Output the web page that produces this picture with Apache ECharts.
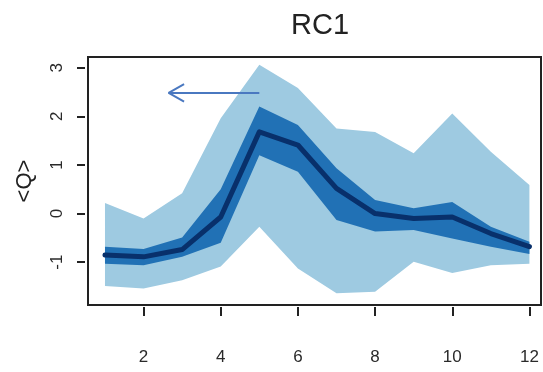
<!DOCTYPE html>
<html>
<head>
<meta charset="utf-8">
<script src="https://cdn.jsdelivr.net/npm/echarts@6/dist/echarts.min.js"></script>
<style>html,body{margin:0;padding:0;background:#fff;}#c{width:543px;height:372px;}</style>
</head>
<body>
<div id="c"></div>
<script>
var xValues = [1,2,3,4,5,6,7,8,9,10,11,12];
var outerLow  = [-1.49,-1.54,-1.37,-1.09,-0.27,-1.13,-1.64,-1.61,-0.99,-1.22,-1.06,-1.03];
var outerHigh = [0.22,-0.10,0.42,1.96,3.06,2.58,1.75,1.68,1.24,2.06,1.27,0.59];
var innerLow  = [-1.03,-1.06,-0.89,-0.60,1.20,0.86,-0.13,-0.37,-0.34,-0.51,-0.68,-0.83];
var innerHigh = [-0.68,-0.73,-0.49,0.50,2.20,1.82,0.93,0.28,0.11,0.24,-0.27,-0.58];
var meanQ     = [-0.85,-0.89,-0.74,-0.07,1.68,1.41,0.52,0.00,-0.10,-0.07,-0.41,-0.68];
var xTicks = [2,4,6,8,10,12];
var yTicks = [-1,0,1,2,3];
var arrowShaft = [[5.0,2.48],[2.65,2.48]];
var arrowHead  = [[3.05,2.66],[2.65,2.48],[3.05,2.30]];

function pairs(a){ return xValues.map(function(x,i){ return [x,a[i]]; }); }
function bandData(l,h){ return xValues.map(function(x,i){ return [x,l[i],h[i]]; }); }

function bandRenderer(low, high, color){
  return function(params, api){
    if (params.dataIndex !== 0) return null;
    var pts = [];
    for (var i = 0; i < xValues.length; i++) pts.push(api.coord([xValues[i], high[i]]));
    for (var j = xValues.length - 1; j >= 0; j--) pts.push(api.coord([xValues[j], low[j]]));
    return {type:'polygon', shape:{points:pts}, style:{fill:color, stroke:null}};
  };
}

var chart = echarts.init(document.getElementById('c'));
var font = 'Liberation Sans, Arial, sans-serif';
chart.setOption({
  animation:false,
  title:{text:'RC1', left:315, textAlign:'center', top:6,
    textStyle:{fontFamily:font, fontSize:29, fontWeight:'normal', color:'#222'}},
  grid:{left:88, right:2, top:57, bottom:67, show:true, borderColor:'#222', borderWidth:2, backgroundColor:'transparent'},
  xAxis:{type:'value', min:0.56, max:12.3, offset:2,
    axisLine:{show:false, onZero:false}, splitLine:{show:false},
    axisTick:{show:true, length:9, lineStyle:{color:'#222', width:2}, customValues:xTicks},
    axisLabel:{fontFamily:font, fontSize:17, color:'#2a2a2a', margin:42, customValues:xTicks}},
  yAxis:{type:'value', min:-1.88, max:3.22, offset:3,
    name:'<Q>', nameLocation:'middle', nameGap:49, nameRotate:90,
    nameTextStyle:{fontFamily:font, fontSize:22, color:'#222'},
    axisLine:{show:false, onZero:false}, splitLine:{show:false},
    axisTick:{show:true, length:8, lineStyle:{color:'#222', width:2}, customValues:yTicks},
    axisLabel:{fontFamily:font, fontSize:17, color:'#2a2a2a', margin:19, rotate:90, customValues:yTicks}},
  series:[
    {type:'custom', data:bandData(outerLow,outerHigh), encode:{x:0, y:[1,2]},
      renderItem:bandRenderer(outerLow, outerHigh, '#9ecae1'), silent:true, z:1},
    {type:'custom', data:bandData(innerLow,innerHigh), encode:{x:0, y:[1,2]},
      renderItem:bandRenderer(innerLow, innerHigh, '#2171b5'), silent:true, z:2},
    {type:'line', data:pairs(meanQ), symbol:'none', lineStyle:{color:'#08306b', width:5, join:'round', cap:'round'}, silent:true, z:3},
    {type:'line', data:arrowShaft, symbol:'none', lineStyle:{color:'#4a78c0', width:2}, silent:true, z:5},
    {type:'line', data:arrowHead, symbol:'none', lineStyle:{color:'#4a78c0', width:2}, silent:true, z:5}
  ]
});
</script>
</body>
</html>
